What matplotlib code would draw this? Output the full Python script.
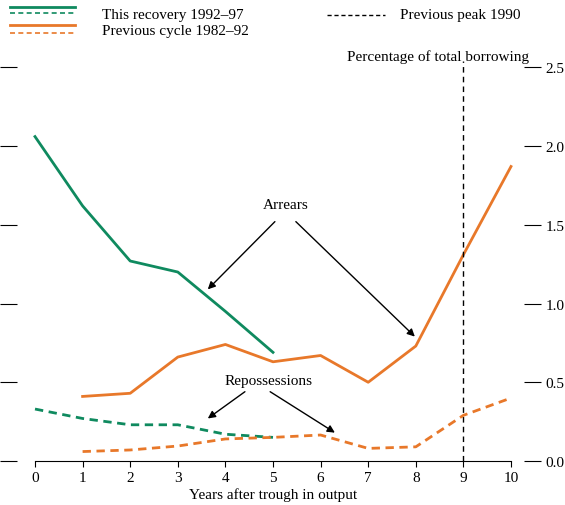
import matplotlib.pyplot as plt
from matplotlib.lines import Line2D

plt.rcParams['font.family'] = ['Liberation Serif', 'DejaVu Serif']
plt.rcParams['font.size'] = 11

GREEN = '#0f8a5f'
ORANGE = '#e8782a'

years_recovery = [0, 1, 2, 3, 4, 5]
arrears_recovery = [2.06, 1.62, 1.27, 1.20, 0.95, 0.69]
reposs_recovery = [0.33, 0.27, 0.23, 0.23, 0.17, 0.15]

years_prev = [1, 2, 3, 4, 5, 6, 7, 8, 9, 10]
arrears_prev = [0.41, 0.43, 0.66, 0.74, 0.63, 0.67, 0.50, 0.73, 1.31, 1.87]
reposs_prev = [0.06, 0.07, 0.095, 0.14, 0.15, 0.165, 0.08, 0.09, 0.29, 0.40]

peak_year = 9
yticks = [0.0, 0.5, 1.0, 1.5, 2.0, 2.5]

fig = plt.figure(figsize=(5.65, 5.06), dpi=100)
ax = fig.add_axes([35/565, 1-462/506, 476/565, 400/506])

ax.plot(years_recovery, arrears_recovery, color=GREEN, lw=2, clip_on=False)
ax.plot(years_recovery, reposs_recovery, color=GREEN, lw=2, ls=(0, (3, 2)), clip_on=False)
ax.plot(years_prev, arrears_prev, color=ORANGE, lw=2, clip_on=False)
ax.plot(years_prev, reposs_prev, color=ORANGE, lw=2, ls=(0, (3, 2)), clip_on=False)
ax.axvline(peak_year, color='black', lw=1, ls=(0, (4, 3)))

ax.set_xlim(0, 10)
ax.set_ylim(0, 2.54)
ax.set_xticks(range(11))
ax.set_xlabel('Years after trough in output', labelpad=2)

for s in ['top', 'right', 'left']:
    ax.spines[s].set_visible(False)
ax.spines['left'].set_position(('outward', 13))
ax.set_yticks(yticks)
ax.tick_params(axis='y', left=True, labelleft=False, length=12, right=False)
ax.tick_params(axis='x', direction='out', length=4)

ax2 = ax.twinx()
ax2.set_ylim(0, 2.54)
ax2.set_yticks(yticks)
ax2.set_yticklabels([f'{v:.1f}' for v in yticks])
for s in ['top', 'right', 'left', 'bottom']:
    ax2.spines[s].set_visible(False)
ax2.spines['right'].set_position(('outward', 9))
ax2.tick_params(axis='y', length=12, pad=4)

ax.text(8.47, 2.53, 'Percentage of total borrowing', ha='center', va='bottom',
        fontsize=11, clip_on=False)

arrow = dict(arrowstyle='-|>', color='black', lw=1, shrinkA=0, shrinkB=0)
ax.text(5.27, 1.63, 'Arrears', ha='center', va='center')
ax.annotate('', xy=(3.63, 1.09), xytext=(5.04, 1.52), arrowprops=arrow)
ax.annotate('', xy=(7.98, 0.79), xytext=(5.48, 1.52), arrowprops=arrow)
ax.text(4.9, 0.51, 'Repossessions', ha='center', va='center')
ax.annotate('', xy=(3.63, 0.27), xytext=(4.41, 0.44), arrowprops=arrow)
ax.annotate('', xy=(6.30, 0.18), xytext=(4.94, 0.44), arrowprops=arrow)

# legend drawn by hand in figure pixels
def fy(p):
    return 1 - p/506

def seg(x0, x1, y, color, ls='-', lw=2):
    fig.add_artist(Line2D([x0/565, x1/565], [fy(y), fy(y)], color=color, lw=lw, ls=ls))

seg(10, 75, 8, GREEN)
seg(10, 75, 14, GREEN, ls=(0, (3, 2)), lw=1.2)
seg(10, 75, 26, ORANGE)
seg(10, 75, 34, ORANGE, ls=(0, (3, 2)), lw=1.2)
seg(327, 385, 16, 'black', ls=(0, (3, 2)), lw=1)
fig.text(102/565, fy(16), 'This recovery 1992–97', va='center')
fig.text(102/565, fy(31), 'Previous cycle 1982–92', va='center')
fig.text(400/565, fy(16), 'Previous peak 1990', va='center')

fig.savefig('out.png', dpi=100)
